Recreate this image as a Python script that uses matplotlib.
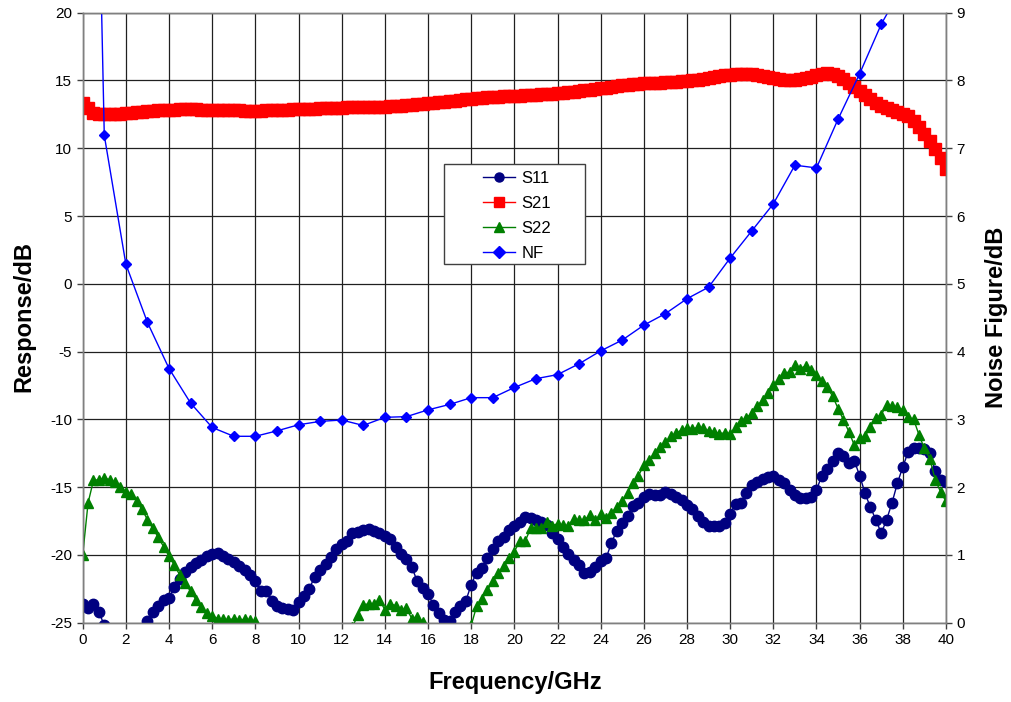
import matplotlib

matplotlib.use("Agg")
import matplotlib.pyplot as plt
import numpy as np
from matplotlib.patches import Rectangle

plt.rcParams["font.family"] = ["Liberation Sans", "DejaVu Sans"]
plt.rcParams["axes.unicode_minus"] = False

# S-parameters sampled every 0.25 GHz, 0..40 GHz (161 points)
freq = np.linspace(0, 40, 161)

s11 = [
    -23.6, -23.9, -23.6, -24.2, -25.2, -26.3, -27.4, -28.2,
    -28.6, -28.3, -27.4, -25.6, -24.85, -24.2, -23.8, -23.35,
    -23.15, -22.4, -21.75, -21.25, -20.9, -20.6, -20.4, -20.05,
    -19.95, -19.85, -20.05, -20.3, -20.55, -20.85, -21.1, -21.5,
    -21.95, -22.65, -22.65, -23.4, -23.75, -23.9, -24.0, -24.05,
    -23.45, -23.05, -22.5, -21.6, -21.1, -20.7, -20.15, -19.6,
    -19.2, -18.95, -18.4, -18.3, -18.15, -18.1, -18.25, -18.35,
    -18.6, -18.85, -19.4, -19.95, -20.3, -20.9, -21.95, -22.45,
    -22.85, -23.7, -24.25, -24.8, -24.85, -24.2, -23.8, -23.4,
    -22.2, -21.3, -21.0, -20.25, -19.55, -19.0, -18.65, -18.15,
    -17.85, -17.6, -17.2, -17.25, -17.45, -17.6, -17.8, -18.35,
    -18.85, -19.4, -19.95, -20.35, -20.75, -21.35, -21.25, -20.9,
    -20.45, -20.25, -19.1, -18.2, -17.65, -17.1, -16.4, -16.2,
    -15.7, -15.5, -15.6, -15.55, -15.35, -15.5, -15.7, -15.95,
    -16.3, -16.65, -17.1, -17.6, -17.9, -17.9, -17.85, -17.65,
    -16.95, -16.25, -16.2, -15.4, -14.85, -14.6, -14.4, -14.25,
    -14.2, -14.5, -14.7, -15.2, -15.6, -15.8, -15.8, -15.7,
    -15.2, -14.15, -13.65, -13.05, -12.45, -12.7, -13.25, -13.05,
    -14.15, -15.45, -16.5, -17.4, -18.4, -17.4, -16.15, -14.7,
    -13.5, -12.4, -12.15, -12.15, -12.2, -12.45, -13.8, -14.5,
    -14.6,
]

s21 = [
    13.35, 12.95, 12.6, 12.52, 12.5, 12.5, 12.52, 12.55,
    12.58, 12.62, 12.66, 12.7, 12.74, 12.77, 12.8, 12.82,
    12.84, 12.85, 12.86, 12.86, 12.86, 12.86, 12.85, 12.85,
    12.84, 12.83, 12.82, 12.81, 12.8, 12.79, 12.78, 12.78,
    12.78, 12.78, 12.79, 12.8, 12.81, 12.82, 12.84, 12.86,
    12.88, 12.9, 12.92, 12.93, 12.95, 12.96, 12.98, 12.99,
    13.0, 13.01, 13.02, 13.03, 13.04, 13.05, 13.06, 13.07,
    13.08, 13.1, 13.12, 13.15, 13.18, 13.21, 13.24, 13.28,
    13.32, 13.36, 13.4, 13.44, 13.48, 13.52, 13.56, 13.6,
    13.64, 13.68, 13.72, 13.75, 13.78, 13.8, 13.83, 13.85,
    13.87, 13.89, 13.91, 13.93, 13.95, 13.97, 14.0, 14.03,
    14.06, 14.1, 14.14, 14.18, 14.23, 14.28, 14.33, 14.38,
    14.43, 14.48, 14.53, 14.58, 14.63, 14.67, 14.71, 14.75,
    14.78, 14.81, 14.83, 14.85, 14.87, 14.89, 14.91, 14.93,
    14.96, 15.0, 15.05, 15.11, 15.18, 15.25, 15.32, 15.38,
    15.43, 15.47, 15.49, 15.48, 15.45, 15.4, 15.33, 15.25,
    15.17, 15.1, 15.05, 15.03, 15.04, 15.08, 15.16, 15.27,
    15.4, 15.5, 15.55, 15.5, 15.35, 15.1, 14.8, 14.5,
    14.2, 13.9, 13.6, 13.35, 13.12, 12.95, 12.8, 12.68,
    12.55, 12.35, 12.0, 11.55, 11.05, 10.5, 9.95, 9.3,
    8.5,
]

s22 = [
    -20.0, -16.15, -14.5, -14.45, -14.35, -14.45, -14.65, -15.0,
    -15.35, -15.5, -16.05, -16.65, -17.4, -18.05, -18.7, -19.4,
    -20.1, -20.75, -21.5, -22.1, -22.7, -23.3, -23.85, -24.3,
    -24.5, -24.7, -24.75, -24.8, -24.7, -24.8, -24.75, -24.8,
    -24.9, -25.5, -26.2, -26.9, -27.5, -28.0, -28.4, -28.7,
    -28.9, -29.0, -28.9, -28.7, -28.3, -27.9, -27.3, -26.7,
    -26.2, -25.7, -25.3, -24.45, -23.7, -23.6, -23.6, -23.3,
    -24.05, -23.6, -23.75, -24.05, -23.95, -24.7, -24.55, -24.95,
    -25.6, -26.3, -27.0, -27.5, -27.7, -27.5, -26.9, -26.0,
    -25.2, -23.8, -23.25, -22.6, -21.95, -21.35, -20.85, -20.25,
    -19.75, -19.0, -19.0, -18.05, -18.05, -18.05, -17.6, -17.85,
    -17.7, -17.8, -17.85, -17.35, -17.45, -17.45, -17.05, -17.45,
    -17.0, -17.3, -16.9, -16.45, -16.05, -15.4, -14.7, -14.15,
    -13.4, -13.0, -12.5, -12.05, -11.7, -11.25, -11.0, -10.8,
    -10.65, -10.7, -10.6, -10.65, -10.85, -10.9, -11.05, -11.0,
    -11.05, -10.6, -10.15, -9.9, -9.55, -9.05, -8.55, -8.05,
    -7.5, -7.05, -6.6, -6.5, -6.0, -6.25, -6.05, -6.35,
    -6.7, -7.2, -7.65, -8.3, -9.2, -10.05, -10.9, -11.9,
    -11.4, -11.25, -10.55, -9.9, -9.65, -8.95, -9.05, -9.1,
    -9.3, -9.85, -10.0, -11.15, -12.15, -12.9, -14.45, -15.35,
    -16.05,
]

# noise figure, 1 GHz steps
nf_freq = list(range(0, 39))
nf = [
    22.0, 7.19, 5.29, 4.43, 3.75, 3.24, 2.88, 2.75, 2.75, 2.83,
    2.92, 2.97, 2.99, 2.91, 3.03, 3.04, 3.14, 3.22, 3.32, 3.32,
    3.47, 3.60, 3.66, 3.82, 4.01, 4.17, 4.39, 4.56, 4.78, 4.95,
    5.38, 5.78, 6.18, 6.75, 6.71, 7.43, 8.10, 8.83, 9.4,
]

fig = plt.figure(figsize=(10.11, 7.02), dpi=100)
ax = fig.add_axes([0.0818, 0.1130, 0.8539, 0.8689])
ax2 = ax.twinx()

ax.plot(freq, s11, color="#000080", lw=1.0, marker="o", ms=7.5, label="S11", zorder=3)
ax.plot(freq, s21, color="#FF0000", lw=1.0, marker="s", ms=8, label="S21", zorder=3)
ax.plot(freq, s22, color="#008000", lw=1.0, marker="^", ms=7.5, label="S22", zorder=4)
ax2.plot(nf_freq, nf, color="#0000FF", lw=1.0, marker="D", ms=5, label="NF")

ax.set_xlim(0, 40)
ax.set_ylim(-25, 20)
ax2.set_ylim(0, 9)
ax.set_xticks(np.arange(0, 41, 2))
ax.set_yticks(np.arange(-25, 21, 5))
ax2.set_yticks(np.arange(0, 10, 1))

ax.grid(True, color="#202020", lw=0.9, zorder=0)
ax.set_axisbelow(True)
for a in (ax, ax2):
    for sp in a.spines.values():
        sp.set_color("#808080")
        sp.set_linewidth(1.0)
    a.tick_params(labelsize=11, length=4, width=1, color="#404040", direction="out")

fig.text(0.510, 1 - 683 / 702, "Frequency/GHz", ha="center", va="center",
         fontsize=17, fontweight="bold")
fig.text(24 / 1011, 1 - 317 / 702, "Response/dB", ha="center", va="center",
         rotation=90, fontsize=17, fontweight="bold")
fig.text(996 / 1011, 1 - 317 / 702, "Noise Figure/dB", ha="center", va="center",
         rotation=90, fontsize=17, fontweight="bold")

# legend box drawn separately so its padding can match the original
box = Rectangle((0.4185, 0.588), 0.1633, 0.164, transform=ax2.transAxes,
                facecolor="white", edgecolor="#404040", lw=1.0, zorder=6)
ax2.add_patch(box)
h1, l1 = ax.get_legend_handles_labels()
h2, l2 = ax2.get_legend_handles_labels()
leg = ax2.legend(h1 + h2, l1 + l2, loc="center", bbox_to_anchor=(0.503, 0.667),
                 fontsize=12, frameon=False, handlelength=1.9, labelspacing=0.6,
                 borderpad=0, handletextpad=0.4, borderaxespad=0)
leg.set_zorder(7)
for lh in leg.legend_handles:
    lh.set_markersize(6.5)

fig.savefig("out.png", dpi=100)
